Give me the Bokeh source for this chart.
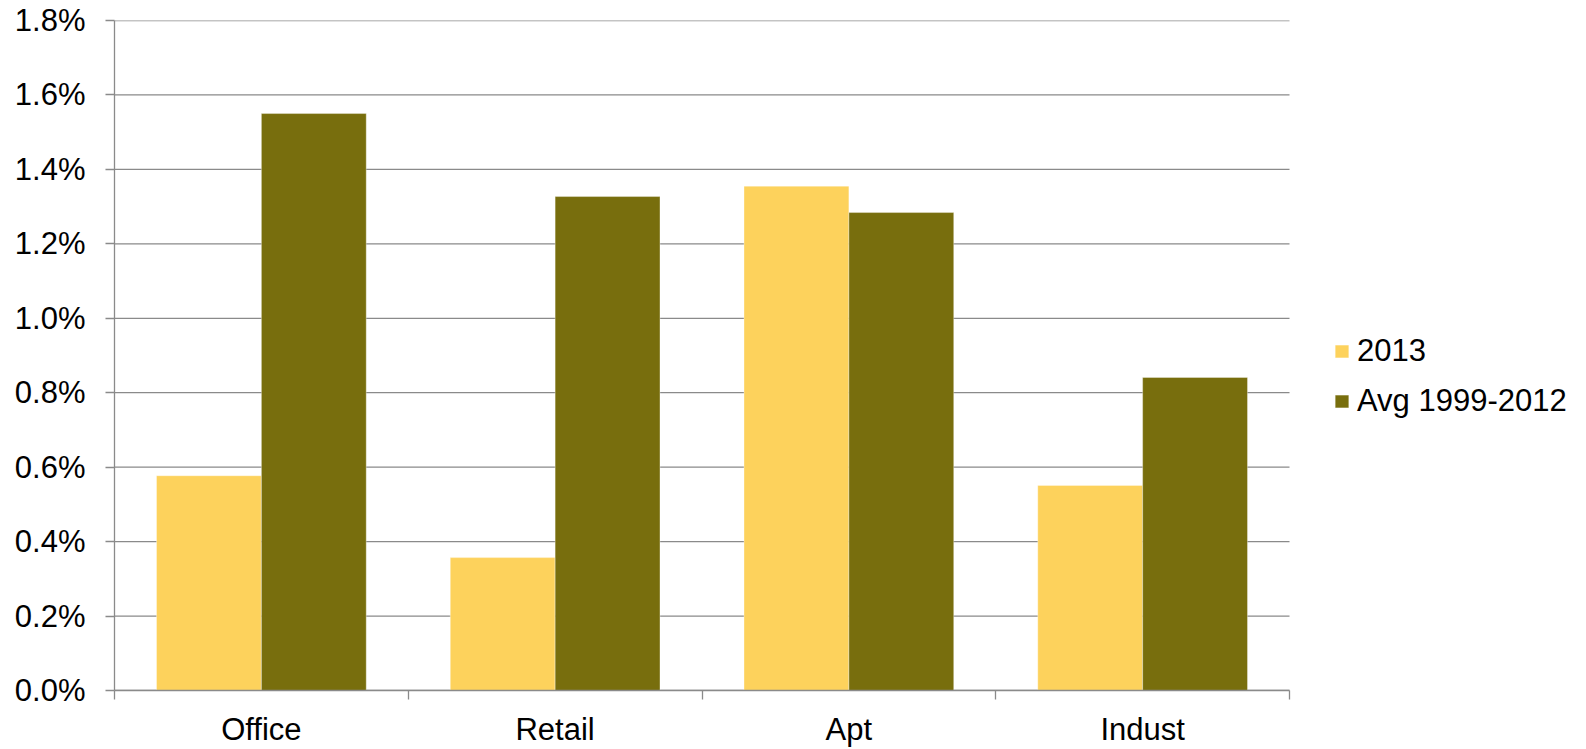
from bokeh.plotting import figure
from bokeh.models import (ColumnDataSource, FixedTicker, PrintfTickFormatter,
                          Legend, LegendItem, Range1d)
from bokeh.transform import dodge
from bokeh.embed import file_html
from bokeh.resources import INLINE

categories = ["Office", "Retail", "Apt", "Indust"]
values_2013 = [0.577, 0.357, 1.355, 0.551]
values_avg = [1.550, 1.327, 1.284, 0.841]
series_names = ["2013", "Avg 1999-2012"]
y_ticks = [0.0, 0.2, 0.4, 0.6, 0.8, 1.0, 1.2, 1.4, 1.6, 1.8]

color_2013 = "#FDD25C"
color_avg = "#786E0D"
axis_color = "#8A8A8A"
font = "Liberation Sans"
fsize = "31px"

n = len(categories)
centers = [i + 0.5 for i in range(n)]
bounds = [float(i) for i in range(n + 1)]

# layout (pixels): plot area 114..1289 wide, legend area to the right of it
left_px, plot_px, total_px = 114, 1175, 1586
x_end = n * (total_px - left_px) / plot_px

src = ColumnDataSource(dict(x=centers, cat=categories, v2013=values_2013, vavg=values_avg))

p = figure(width=total_px, height=749, output_backend="svg", toolbar_location=None,
           x_range=Range1d(0, x_end), y_range=Range1d(0, 1.8),
           min_border_left=left_px, min_border_right=0, min_border_top=20,
           min_border_bottom=56)
p.outline_line_color = None
p.background_fill_color = "white"
p.border_fill_color = "white"
p.xgrid.grid_line_color = None
p.ygrid.grid_line_color = None

# horizontal gridlines across the category area only
p.segment(x0=[0] * len(y_ticks), x1=[n] * len(y_ticks), y0=y_ticks, y1=y_ticks,
          line_color=axis_color, line_width=1.3)

w = 0.357
r1 = p.vbar(x=dodge("x", -w / 2, range=p.x_range), top="v2013", width=w, source=src,
            fill_color=color_2013, line_color="white", line_alpha=0.35, line_width=1)
r2 = p.vbar(x=dodge("x", w / 2, range=p.x_range), top="vavg", width=w, source=src,
            fill_color=color_avg, line_color="white", line_alpha=0.35, line_width=1)

# y axis
yax = p.yaxis[0]
yax.ticker = FixedTicker(ticks=y_ticks)
yax.formatter = PrintfTickFormatter(format="%.1f%%")
yax.major_tick_in = 0
yax.major_tick_out = 9
yax.minor_tick_line_color = None
yax.axis_line_color = axis_color
yax.major_tick_line_color = axis_color
yax.axis_line_width = 1.3
yax.major_tick_line_width = 1.3
yax.major_label_text_font = font
yax.major_label_text_font_size = fsize
yax.major_label_text_color = "black"
yax.major_label_standoff = 20

# x axis
xax = p.xaxis[0]
xax.bounds = (0, n)
xax.ticker = FixedTicker(ticks=centers, minor_ticks=bounds)
xax.major_label_overrides = {c: name for c, name in zip(centers, categories)}
xax.major_tick_in = 0
xax.major_tick_out = 0
xax.minor_tick_in = 0
xax.minor_tick_out = 9
xax.axis_line_color = axis_color
xax.minor_tick_line_color = axis_color
xax.axis_line_width = 1.3
xax.minor_tick_line_width = 1.3
xax.major_label_text_font = font
xax.major_label_text_font_size = fsize
xax.major_label_text_color = "black"
xax.major_label_standoff = 12

legend = Legend(items=[LegendItem(label=series_names[0], renderers=[r1]),
                       LegendItem(label=series_names[1], renderers=[r2])],
                location=(1219, 271), orientation="vertical")
legend.label_text_font = font
legend.label_text_font_size = fsize
legend.label_text_color = "black"
legend.glyph_width = 17
legend.glyph_height = 16
legend.label_height = 36
legend.label_standoff = 7
legend.spacing = 14
legend.padding = 0
legend.margin = 0
legend.border_line_color = None
legend.background_fill_alpha = 0
p.add_layout(legend)

open("out.html", "w").write(file_html(p, INLINE))
